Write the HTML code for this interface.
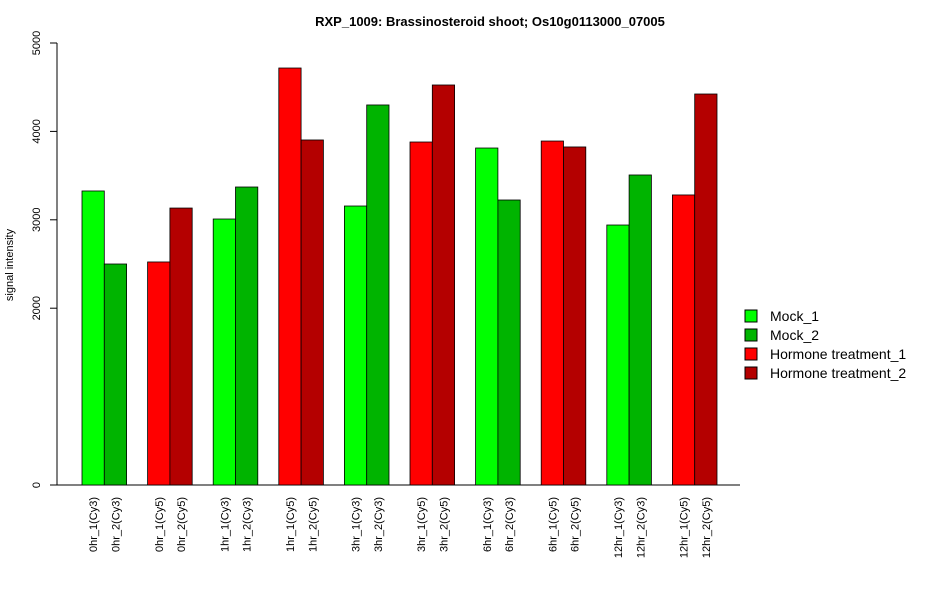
<!DOCTYPE html>
<html><head><meta charset="utf-8"><style>
body{margin:0;background:#fff;font-family:"Liberation Sans",sans-serif}
</style></head><body>
<svg id="chart" width="950" height="600" xmlns="http://www.w3.org/2000/svg" font-family="Liberation Sans, sans-serif">
<text x="490" y="26" font-size="13" font-weight="bold" text-anchor="middle">RXP_1009: Brassinosteroid shoot; Os10g0113000_07005</text>
<text transform="translate(13,265) rotate(-90)" font-size="11" text-anchor="middle">signal intensity</text>
<line x1="57" y1="43" x2="57" y2="485" stroke="#000"/>
<line x1="57" y1="485" x2="740" y2="485" stroke="#000"/>
<g id="yticks"></g><g id="bars"></g><g id="xlabels"></g>
<g font-size="14">
<rect x="745" y="310" width="12" height="12" fill="#00ff00" stroke="#000"/><text x="770" y="321">Mock_1</text>
<rect x="745" y="329" width="12" height="12" fill="#00b400" stroke="#000"/><text x="770" y="340">Mock_2</text>
<rect x="745" y="348" width="12" height="12" fill="#ff0000" stroke="#000"/><text x="770" y="359">Hormone treatment_1</text>
<rect x="745" y="367" width="12" height="12" fill="#b40000" stroke="#000"/><text x="770" y="378">Hormone treatment_2</text>
</g>
</svg>
<script>
const categories=["0hr_1(Cy3)","0hr_2(Cy3)","0hr_1(Cy5)","0hr_2(Cy5)","1hr_1(Cy3)","1hr_2(Cy3)","1hr_1(Cy5)","1hr_2(Cy5)","3hr_1(Cy3)","3hr_2(Cy3)","3hr_1(Cy5)","3hr_2(Cy5)","6hr_1(Cy3)","6hr_2(Cy3)","6hr_1(Cy5)","6hr_2(Cy5)","12hr_1(Cy3)","12hr_2(Cy3)","12hr_1(Cy5)","12hr_2(Cy5)"];
const values=[3326,2500,2523,3133,3009,3371,4717,3903,3156,4299,3880,4525,3812,3224,3891,3824,2941,3507,3281,4423];
const seriesColors=["#00ff00","#00b400","#ff0000","#b40000"];
const yTicks=[0,2000,3000,4000,5000];
const NS="http://www.w3.org/2000/svg";
function y(v){return 485-v*(442/5000);}
function x(i){const p=Math.floor(i/2);return 82+p*65.6+(i%2)*22.3;}
const bw=22.3;
const yt=document.getElementById('yticks');
yTicks.forEach(t=>{
 const l=document.createElementNS(NS,'line');
 
 
 l.setAttribute('x1',50);l.setAttribute('x2',57);l.setAttribute('y1',y(t));l.setAttribute('y2',y(t));l.setAttribute('stroke','#000');yt.appendChild(l);
 const tx=document.createElementNS(NS,'text');
 
 
 tx.setAttribute('transform',`translate(40,${y(t)}) rotate(-90)`);tx.setAttribute('font-size','11');tx.setAttribute('text-anchor','middle');tx.textContent=t;yt.appendChild(tx);
});
const bg=document.getElementById('bars'),xl=document.getElementById('xlabels');
values.forEach((v,i)=>{
 const r=document.createElementNS(NS,'rect');
 
 
 const p=Math.floor(i/2);
 const c=(p%2===0?0:2)+(i%2);
 r.setAttribute('x',x(i));r.setAttribute('y',y(v));r.setAttribute('width',bw);r.setAttribute('height',485-y(v));
 r.setAttribute('fill',seriesColors[c]);r.setAttribute('stroke','#000');r.setAttribute('stroke-width','0.8');bg.appendChild(r);
 const t=document.createElementNS(NS,'text');
 
 
 t.setAttribute('transform',`translate(${x(i)+bw/2+4},497) rotate(-90)`);t.setAttribute('font-size','11');t.setAttribute('text-anchor','end');t.textContent=categories[i];xl.appendChild(t);
});
</script>
</body></html>
